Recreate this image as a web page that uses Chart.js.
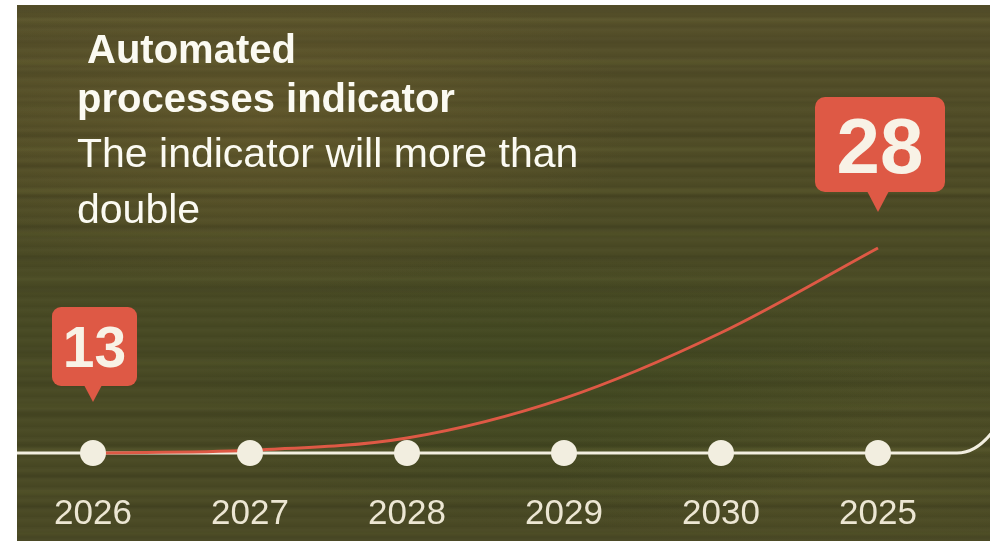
<!DOCTYPE html>
<html>
<head>
<meta charset="utf-8">
<script src="https://cdn.jsdelivr.net/npm/chart.js@4.4.1/dist/chart.umd.min.js"></script>
<style>
  html, body { margin: 0; padding: 0; background: #ffffff; }
  body { width: 996px; height: 547px; position: relative; overflow: hidden; font-family: 'Liberation Sans', Arial, sans-serif; }
  /* olive, brushed backdrop */
  #panel {
    position: absolute; left: 17px; top: 5px; width: 973px; height: 536px; overflow: hidden;
    background:
      radial-gradient(ellipse 55% 45% at 25% 22%, rgba(108,94,46,0.55), transparent 70%),
      radial-gradient(ellipse 50% 35% at 55% 72%, rgba(58,72,30,0.45), transparent 75%),
      radial-gradient(ellipse 40% 30% at 85% 85%, rgba(90,88,40,0.35), transparent 75%),
      linear-gradient(180deg, #56502a 0%, #4f4c26 30%, #484a24 60%, #4b4a25 100%);
  }
  #panel::before {
    content: ''; position: absolute; left: -10px; top: -10px; right: -10px; bottom: -10px;
    background:
      repeating-linear-gradient(180deg, rgba(0,0,0,0.05) 0 3px, rgba(255,255,255,0.02) 3px 6px, transparent 6px 10px),
      repeating-linear-gradient(180deg, transparent 0 13px, rgba(0,0,0,0.07) 13px 18px, transparent 18px 31px),
      repeating-linear-gradient(180deg, transparent 0 22px, rgba(125,130,60,0.10) 22px 27px, transparent 27px 43px);
    filter: blur(1.2px);
  }
  #chart { position: absolute; left: 0; top: 0; }
  .head { position: absolute; color: #fbfaf2; font-size: 40px; line-height: 40px; white-space: nowrap; }
  .bold { font-weight: bold; }
  .sub { font-size: 41px; }
</style>
</head>
<body>
<div id="panel">
  <canvas id="chart" width="973" height="536"></canvas>
</div>
<div class="head bold" style="left:87px; top:29px;">Automated</div>
<div class="head bold" style="left:77px; top:78px;">processes indicator</div>
<div class="head sub" style="left:77px; top:133px;">The indicator will more than</div>
<div class="head sub" style="left:77px; top:189px;">double</div>

<script>
// years along the timeline (last stop is labelled 2025)
var years = ['2026', '2027', '2028', '2029', '2030', '2025'];
// automated processes indicator per year
var indicator = [13, 13.2, 14.1, 17, 21.8, 28];
// timeline stops sit on the starting level
var timeline = [13, 13, 13, 13, 13, 13];
// which points get a value bubble
var bubbleIdx = [0, 5];

var CREAM = '#f2eee0';
var RED = '#de5945';

// bubble look per labelled point
var bubbleStyle = {
  0: { w: 85, h: 79, gap: 51, tipH: 16, tipW: 18, dx: 1.5, font: 57, radius: 9 },
  5: { w: 130, h: 95, gap: 36, tipH: 20, tipW: 22, dx: 2, font: 78, radius: 10 }
};

// white timeline rail with an upturned end on the right
var railPlugin = {
  id: 'rail',
  beforeDatasetsDraw: function(chart) {
    var ctx = chart.ctx;
    var y = chart.scales.y.getPixelForValue(timeline[0]);
    var w = chart.width;
    ctx.save();
    ctx.strokeStyle = CREAM;
    ctx.lineWidth = 3;
    ctx.beginPath();
    ctx.moveTo(0, y);
    ctx.lineTo(w - 33, y);
    ctx.quadraticCurveTo(w - 12, y, w + 6, y - 26);
    ctx.stroke();
    ctx.restore();
  }
};

// speech-bubble value labels
var bubblePlugin = {
  id: 'bubbles',
  afterDatasetsDraw: function(chart) {
    var ctx = chart.ctx;
    var meta = chart.getDatasetMeta(1);
    bubbleIdx.forEach(function(i) {
      var s = bubbleStyle[i];
      var pt = meta.data[i];
      var tipY = pt.y - s.gap;
      var bottom = tipY - s.tipH;
      var top = bottom - s.h;
      var cx = pt.x + s.dx;
      var left = cx - s.w / 2;
      ctx.save();
      ctx.fillStyle = RED;
      ctx.beginPath();
      ctx.roundRect(left, top, s.w, s.h, s.radius);
      ctx.fill();
      ctx.beginPath();
      ctx.moveTo(pt.x - s.tipW / 2, bottom - 1);
      ctx.lineTo(pt.x + s.tipW / 2, bottom - 1);
      ctx.lineTo(pt.x, tipY);
      ctx.closePath();
      ctx.fill();
      ctx.fillStyle = '#f8f2e6';
      ctx.font = 'bold ' + s.font + 'px "Liberation Sans", Arial, sans-serif';
      ctx.textAlign = 'center';
      ctx.textBaseline = 'alphabetic';
      ctx.fillText(String(indicator[i]), cx, top + s.h / 2 + s.font * 0.36);
      ctx.restore();
    });
  }
};

new Chart(document.getElementById('chart'), {
  type: 'line',
  data: {
    labels: years,
    datasets: [
      { label: 'timeline', data: timeline, showLine: false, pointRadius: 13, pointHoverRadius: 13,
        pointBackgroundColor: CREAM, pointBorderWidth: 0, order: 0, clip: false },
      { label: 'indicator', data: indicator, borderColor: RED, borderWidth: 3, pointRadius: 0,
        cubicInterpolationMode: 'monotone', fill: false, order: 1, clip: false }
    ]
  },
  options: {
    responsive: false,
    devicePixelRatio: 1,
    animation: false,
    layout: { padding: { left: 76, right: 112, top: 243, bottom: 0 } },
    plugins: { legend: { display: false }, tooltip: { enabled: false } },
    scales: {
      x: {
        offset: false,
        grid: { display: false, drawTicks: false },
        border: { display: false },
        ticks: { color: '#ece6d3', padding: 40, font: { size: 35, family: "'Liberation Sans', Arial, sans-serif" }, maxRotation: 0 },
        afterFit: function(scale) {
          scale.height = 88;
          // the layout padding already leaves room for the end labels
          scale.paddingLeft = 0;
          scale.paddingRight = 0;
        }
      },
      y: { display: false, min: 13, max: 28 }
    }
  },
  plugins: [railPlugin, bubblePlugin]
});
</script>
</body>
</html>
